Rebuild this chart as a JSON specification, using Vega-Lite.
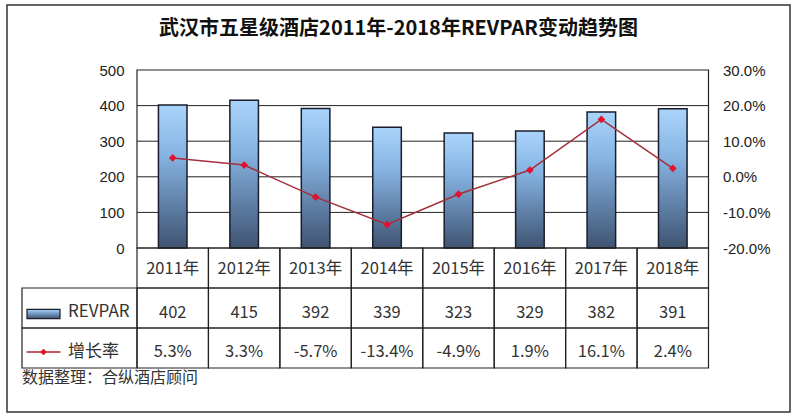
{
  "$schema": "https://vega.github.io/schema/vega-lite/v6.json",
  "width": 783,
  "height": 407,
  "autosize": "none",
  "padding": {"left": 7, "top": 5, "right": 10, "bottom": 5},
  "background": "white",
  "title": {
    "text": "武汉市五星级酒店2011年-2018年REVPAR变动趋势图",
    "font": "Noto Sans CJK SC",
    "fontSize": 20,
    "fontWeight": "bold",
    "color": "#111111",
    "anchor": "middle",
    "offset": -34
  },
  "datasets": {
    "yrs": [
      {"year": "2011年", "revpar": 402, "growth": 0.053},
      {"year": "2012年", "revpar": 415, "growth": 0.033},
      {"year": "2013年", "revpar": 392, "growth": -0.057},
      {"year": "2014年", "revpar": 339, "growth": -0.134},
      {"year": "2015年", "revpar": 323, "growth": -0.049},
      {"year": "2016年", "revpar": 329, "growth": 0.019},
      {"year": "2017年", "revpar": 382, "growth": 0.161},
      {"year": "2018年", "revpar": 391, "growth": 0.024}
    ],
    "grid": [{"v": 100}, {"v": 200}, {"v": 300}, {"v": 400}],
    "hdr": [
      {"col": "hdr", "row": "REVPAR"},
      {"col": "hdr", "row": "增长率"}
    ],
    "note": [{"col": "hdr", "row": "note", "text": "数据整理：合纵酒店顾问"}]
  },
  "data": {"name": "yrs"},
  "layer": [
    {
      "data": {"name": "grid"},
      "mark": {"type": "rule", "color": "#222222", "strokeWidth": 1},
      "encoding": {
        "y": {"field": "v", "type": "quantitative", "scale": {"domain": [0, 500], "range": [243, 65], "nice": false}, "axis": null},
        "x": {"datum": 0, "type": "quantitative", "scale": {"domain": [0, 1], "range": [130, 701.5]}, "axis": null},
        "x2": {"datum": 1}
      }
    },
    {
      "mark": {
        "type": "bar",
        "width": {"band": 0.4},
        "fill": {
          "gradient": "linear",
          "x1": 0, "y1": 0, "x2": 0, "y2": 1,
          "stops": [
            {"offset": 0, "color": "#a9d4fb"},
            {"offset": 0.35, "color": "#86b4e2"},
            {"offset": 0.7, "color": "#5f7fa6"},
            {"offset": 1, "color": "#3f5471"}
          ]
        },
        "stroke": "#1a1d2b",
        "strokeWidth": 1.5
      },
      "encoding": {
        "x": {"field": "year", "type": "nominal", "sort": null, "scale": {"range": [130, 701.5], "paddingInner": 0, "paddingOuter": 0}, "axis": null},
        "y": {
          "field": "revpar",
          "type": "quantitative",
          "scale": {"domain": [0, 500], "range": [243, 65], "nice": false},
          "axis": {
            "orient": "left",
            "offset": -130,
            "values": [0, 100, 200, 300, 400, 500],
            "domain": false,
            "ticks": false,
            "grid": false,
            "labelPadding": 13,
            "labelFont": "Liberation Sans",
            "labelFontSize": 15,
            "labelColor": "#222222",
            "title": null
          }
        }
      }
    },
    {
      "data": {"values": [{}]},
      "mark": {"type": "rect", "fillOpacity": 0, "stroke": "#222222", "strokeWidth": 1.2},
      "encoding": {
        "x": {"datum": 0, "type": "quantitative", "scale": {"domain": [0, 1], "range": [130, 701.5]}, "axis": null},
        "x2": {"datum": 1},
        "y": {"datum": 0, "type": "quantitative", "scale": {"domain": [0, 500], "range": [243, 65], "nice": false}, "axis": null},
        "y2": {"datum": 500}
      }
    },
    {
      "transform": [{"fold": ["year", "revpar", "growth"], "as": ["key", "val"]}],
      "mark": {"type": "rect", "fillOpacity": 0, "stroke": "#222222", "strokeWidth": 1.2},
      "encoding": {
        "x": {"field": "year", "type": "nominal", "sort": null, "scale": {"range": [130, 701.5], "paddingInner": 0, "paddingOuter": 0}, "axis": null},
        "y": {"field": "key", "type": "nominal", "scale": {"domain": ["year", "revpar", "growth", "note"], "range": [243, 403], "paddingInner": 0, "paddingOuter": 0}, "axis": null}
      }
    },
    {
      "data": {"name": "hdr"},
      "mark": {"type": "rect", "fillOpacity": 0, "stroke": "#222222", "strokeWidth": 1.2},
      "encoding": {
        "x": {"field": "col", "type": "nominal", "scale": {"domain": ["hdr"], "range": [15, 130], "paddingInner": 0, "paddingOuter": 0}, "axis": null},
        "y": {"field": "row", "type": "nominal", "scale": {"domain": ["yr", "REVPAR", "增长率", "note"], "range": [243, 403], "paddingInner": 0, "paddingOuter": 0}, "axis": null}
      }
    },
    {
      "mark": {"type": "text", "font": "Noto Sans CJK SC", "fontSize": 16.5, "color": "#333333", "baseline": "middle", "dy": 1},
      "encoding": {
        "x": {"field": "year", "type": "nominal", "sort": null, "scale": {"range": [130, 701.5], "paddingInner": 0, "paddingOuter": 0}, "axis": null},
        "y": {"datum": "yr", "type": "nominal", "scale": {"domain": ["yr", "REVPAR", "增长率", "note"], "range": [243, 403], "paddingInner": 0, "paddingOuter": 0}, "axis": null},
        "text": {"field": "year"}
      }
    },
    {
      "mark": {"type": "text", "font": "Noto Sans CJK SC", "fontSize": 16.5, "color": "#333333", "baseline": "middle", "dy": 5},
      "encoding": {
        "x": {"field": "year", "type": "nominal", "sort": null, "scale": {"range": [130, 701.5], "paddingInner": 0, "paddingOuter": 0}, "axis": null},
        "y": {"datum": "REVPAR", "type": "nominal", "scale": {"domain": ["yr", "REVPAR", "增长率", "note"], "range": [243, 403], "paddingInner": 0, "paddingOuter": 0}, "axis": null},
        "text": {"field": "revpar", "type": "quantitative", "format": "d"}
      }
    },
    {
      "mark": {"type": "text", "font": "Noto Sans CJK SC", "fontSize": 16.5, "color": "#333333", "baseline": "middle", "dy": 4},
      "encoding": {
        "x": {"field": "year", "type": "nominal", "sort": null, "scale": {"range": [130, 701.5], "paddingInner": 0, "paddingOuter": 0}, "axis": null},
        "y": {"datum": "增长率", "type": "nominal", "scale": {"domain": ["yr", "REVPAR", "增长率", "note"], "range": [243, 403], "paddingInner": 0, "paddingOuter": 0}, "axis": null},
        "text": {"field": "growth", "type": "quantitative", "format": ".1%"}
      }
    },
    {
      "data": {"name": "hdr"},
      "mark": {"type": "text", "font": "Noto Sans CJK SC", "fontSize": 17, "color": "#333333", "baseline": "middle", "align": "left", "dx": -11.5, "dy": 4},
      "encoding": {
        "x": {"field": "col", "type": "nominal", "scale": {"domain": ["hdr"], "range": [15, 130], "paddingInner": 0, "paddingOuter": 0}, "axis": null},
        "y": {"field": "row", "type": "nominal", "scale": {"domain": ["yr", "REVPAR", "增长率", "note"], "range": [243, 403], "paddingInner": 0, "paddingOuter": 0}, "axis": null},
        "text": {"field": "row"}
      }
    },
    {
      "data": {"name": "hdr"},
      "transform": [{"filter": "datum.row === 'REVPAR'"}],
      "mark": {
        "type": "point",
        "shape": "M-1,-0.28L1,-0.28L1,0.28L-1,0.28Z",
        "size": 1089,
        "filled": true,
        "opacity": 1,
        "fill": {
          "gradient": "linear",
          "x1": 0, "y1": 0, "x2": 0, "y2": 1,
          "stops": [
            {"offset": 0, "color": "#a9d4fb"},
            {"offset": 0.5, "color": "#6f93bd"},
            {"offset": 1, "color": "#3f5471"}
          ]
        },
        "stroke": "#1a1d2b",
        "strokeWidth": 1.2
      },
      "encoding": {
        "x": {"field": "col", "type": "nominal", "scale": {"domain": ["hdr"], "range": [15, 130], "paddingInner": 0, "paddingOuter": 0}, "axis": null},
        "xOffset": {"value": -36},
        "y": {"field": "row", "type": "nominal", "scale": {"domain": ["yr", "REVPAR", "增长率", "note"], "range": [243, 403], "paddingInner": 0, "paddingOuter": 0}, "axis": null},
        "yOffset": {"value": 6}
      }
    },
    {
      "data": {"name": "hdr"},
      "transform": [{"filter": "datum.row === '增长率'"}],
      "mark": {"type": "point", "shape": "M-1,0L1,0", "size": 1156, "filled": false, "opacity": 1, "stroke": "#b0232e", "strokeWidth": 1.5},
      "encoding": {
        "x": {"field": "col", "type": "nominal", "scale": {"domain": ["hdr"], "range": [15, 130], "paddingInner": 0, "paddingOuter": 0}, "axis": null},
        "xOffset": {"value": -36},
        "y": {"field": "row", "type": "nominal", "scale": {"domain": ["yr", "REVPAR", "增长率", "note"], "range": [243, 403], "paddingInner": 0, "paddingOuter": 0}, "axis": null},
        "yOffset": {"value": 4}
      }
    },
    {
      "data": {"name": "hdr"},
      "transform": [{"filter": "datum.row === '增长率'"}],
      "mark": {"type": "point", "shape": "diamond", "size": 45, "filled": true, "opacity": 1, "color": "#e3122b"},
      "encoding": {
        "x": {"field": "col", "type": "nominal", "scale": {"domain": ["hdr"], "range": [15, 130], "paddingInner": 0, "paddingOuter": 0}, "axis": null},
        "xOffset": {"value": -36},
        "y": {"field": "row", "type": "nominal", "scale": {"domain": ["yr", "REVPAR", "增长率", "note"], "range": [243, 403], "paddingInner": 0, "paddingOuter": 0}, "axis": null},
        "yOffset": {"value": 4}
      }
    },
    {
      "data": {"name": "note"},
      "mark": {"type": "text", "font": "Noto Sans CJK SC", "fontSize": 16, "color": "#333333", "baseline": "middle", "align": "left", "dx": -57.5, "dy": -10},
      "encoding": {
        "x": {"field": "col", "type": "nominal", "scale": {"domain": ["hdr"], "range": [15, 130], "paddingInner": 0, "paddingOuter": 0}, "axis": null},
        "y": {"field": "row", "type": "nominal", "scale": {"domain": ["yr", "REVPAR", "增长率", "note"], "range": [243, 403], "paddingInner": 0, "paddingOuter": 0}, "axis": null},
        "text": {"field": "text"}
      }
    },
    {
      "mark": {"type": "line", "color": "#a32f3a", "strokeWidth": 1.5},
      "encoding": {
        "x": {"field": "year", "type": "nominal", "sort": null, "scale": {"range": [130, 701.5], "paddingInner": 0, "paddingOuter": 0}, "axis": null},
        "y": {
          "field": "growth",
          "type": "quantitative",
          "scale": {"domain": [-0.2, 0.3], "range": [243, 65], "nice": false, "zero": false},
          "axis": {
            "orient": "right",
            "offset": -81.5,
            "values": [-0.2, -0.1, 0, 0.1, 0.2, 0.3],
            "format": ".1%",
            "domain": false,
            "ticks": false,
            "grid": false,
            "labelPadding": 14,
            "labelFont": "Liberation Sans",
            "labelFontSize": 15,
            "labelColor": "#222222",
            "title": null
          }
        }
      }
    },
    {
      "mark": {"type": "point", "shape": "diamond", "size": 60, "filled": true, "opacity": 1, "color": "#e3122b"},
      "encoding": {
        "x": {"field": "year", "type": "nominal", "sort": null, "scale": {"range": [130, 701.5], "paddingInner": 0, "paddingOuter": 0}, "axis": null},
        "y": {"field": "growth", "type": "quantitative", "scale": {"domain": [-0.2, 0.3], "range": [243, 65], "nice": false, "zero": false}, "axis": null}
      }
    }
  ],
  "resolve": {"scale": {"x": "independent", "y": "independent"}},
  "config": {
    "view": {"stroke": "#333333", "strokeWidth": 1.5},
    "locale": {
      "number": {"decimal": ".", "thousands": ",", "grouping": [3], "currency": ["", ""], "minus": "-"}
    }
  }
}
